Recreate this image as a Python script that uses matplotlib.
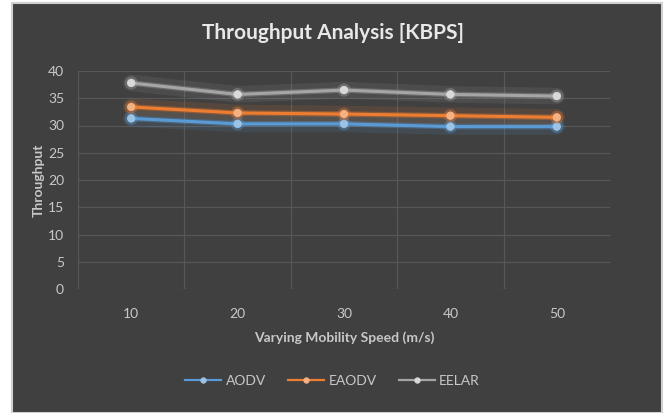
import matplotlib.pyplot as plt
from matplotlib.patches import Rectangle
import matplotlib.patheffects as pe

# data
speeds = [10, 20, 30, 40, 50]
aodv = [31.3, 30.3, 30.3, 29.8, 29.8]
eaodv = [33.4, 32.3, 32.1, 31.8, 31.5]
eelar = [37.8, 35.7, 36.5, 35.7, 35.4]

series = [("AODV", aodv, "#5b9bd5", "#9cc3e6"),
          ("EAODV", eaodv, "#ed7d31", "#f4b183"),
          ("EELAR", eelar, "#a5a5a5", "#d9d9d9")]

plt.rcParams['font.family'] = ['Lato', 'DejaVu Sans']

fig = plt.figure(figsize=(6.65, 4.13), dpi=100, facecolor="white")
# dark chart area with light frame
fig.patches.append(Rectangle((12 / 665, 0), 650 / 665, 1 - 3 / 413, transform=fig.transFigure,
                             facecolor="#404040", edgecolor="#d0d0d0", linewidth=1.5, zorder=-5))

ax = fig.add_axes([78 / 665, 1 - 289 / 413, 532 / 665, 218 / 413])
ax.set_zorder(2)
ax.set_facecolor("#404040")

pos = [i + 0.5 for i in range(len(speeds))]
for name, vals, col, light in series:
    # soft glow behind the lines
    ax.plot(pos, vals, color=col, lw=12, alpha=0.12, solid_capstyle="round", zorder=2)
    ax.plot(pos, vals, color=col, lw=2.2, marker="o", ms=5.5, label=name,
            markerfacecolor=light, markeredgecolor=light, markeredgewidth=0.5, zorder=3,
            path_effects=[pe.Stroke(linewidth=4, foreground=col, alpha=0.35), pe.Normal()])

ax.set_xlim(0, 5)
ax.set_ylim(0, 40)
ax.set_yticks(range(0, 41, 5))
ax.set_xticks(pos)
ax.set_xticklabels([str(s) for s in speeds])
ax.set_xticks(range(0, 6), minor=True)
ax.grid(True, axis="y", color="#575757", lw=0.9)
ax.grid(True, axis="x", which="minor", color="#575757", lw=0.9)
ax.set_axisbelow(True)
for s in ax.spines.values():
    s.set_visible(False)
ax.tick_params(which="both", length=0, colors="#c8c8c8", labelsize=10)
ax.tick_params(axis="y", pad=10)
ax.tick_params(axis="x", pad=14)

ax.set_ylabel("Throughput", color="#c8c8c8", fontsize=10, fontweight="bold", labelpad=2)
ax.set_xlabel("Varying Mobility Speed (m/s)", color="#c8c8c8", fontsize=10, fontweight="bold", labelpad=8)
fig.text(0.5, 1 - 33 / 413, "Throughput Analysis [KBPS]", ha="center", va="center",
         color="#e8e8e8", fontsize=15, fontweight="bold")

leg = fig.legend(loc="center", bbox_to_anchor=(0.5, 1 - 381 / 413), ncol=3, frameon=False,
                 fontsize=10, handlelength=2.6, columnspacing=1.6, handletextpad=0.3)
for t in leg.get_texts():
    t.set_color("#c8c8c8")
for h in leg.get_lines():
    h.set_linewidth(1.6)
    h.set_markersize(4)
    h.set_path_effects([])

fig.savefig("out.png", dpi=100, facecolor=fig.get_facecolor())
